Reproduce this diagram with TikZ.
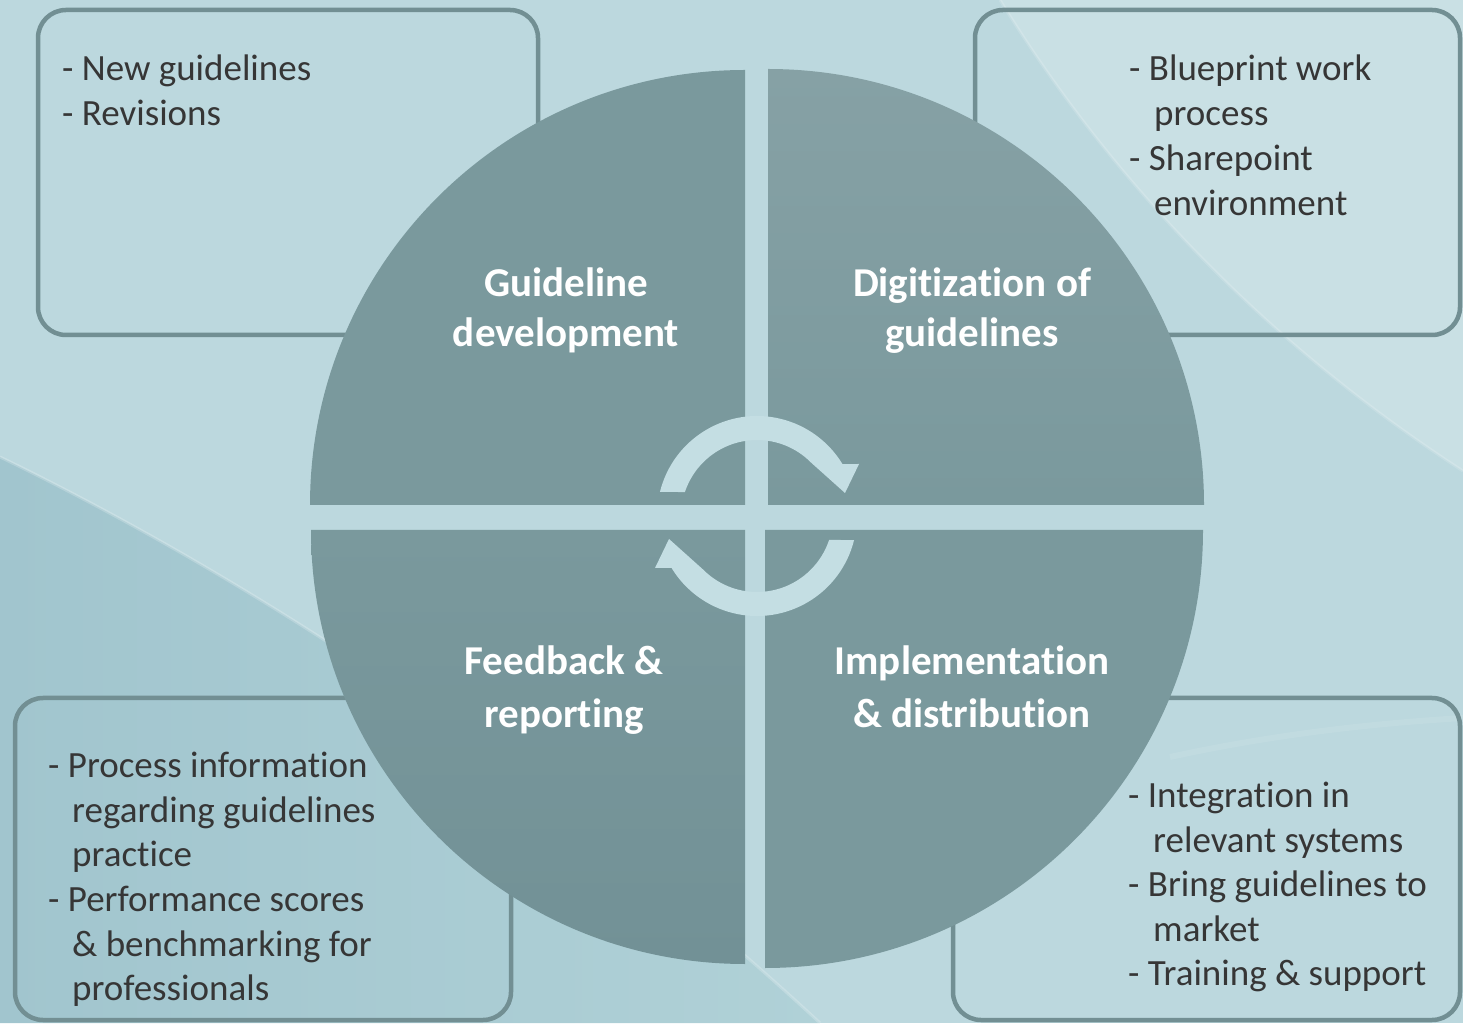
\documentclass[tikz,border=0pt]{standalone}
\usepackage{fontspec}
\setmainfont{Carlito}[RawFeature={-liga,-clig,-calt,-dlig}]
\definecolor{bgc}{HTML}{BCD8DE}
\definecolor{bgdark}{HTML}{A1C5CE}
\definecolor{bgdark2}{HTML}{B0D1D7}
\definecolor{bglight}{HTML}{C9E0E4}
\definecolor{quadc}{HTML}{7A999D}
\definecolor{quadtop}{HTML}{86A1A5}
\definecolor{quadlow}{HTML}{729196}
\definecolor{boxc}{HTML}{728F93}
\definecolor{arrowc}{HTML}{C4DEE3}
\definecolor{textc}{HTML}{363636}
\begin{document}
\begin{tikzpicture}[x=1pt,y=1pt,
  listtext/.style={anchor=base west, inner sep=0pt, text=textc, font=\fontsize{37}{44.6}\selectfont},
  labeltext/.style={anchor=base, inner sep=0pt, text=white, font=\fontsize{41}{50}\selectfont\bfseries},
  infobox/.style={draw=boxc, line width=4.5pt, rounded corners=28pt},
  cyclearrow/.style={fill=arrowc}]
% background
\useasboundingbox (0,0) rectangle (1463,1023);
\fill[bgc] (0,0) rectangle (1463,1023);
\shade[left color=bgdark, right color=bgdark2] (0,0) -- (0,566) .. controls (250,445) and (550,250) .. (820,0) -- cycle;
\draw[white, opacity=0.2, line width=3pt] (0,566) .. controls (250,445) and (550,250) .. (820,0);
\fill[bglight] (1000,1023) .. controls (1100,860) and (1250,690) .. (1463,552) -- (1463,1023) -- cycle;
\draw[white, opacity=0.15, line width=3pt] (1000,1023) .. controls (1100,860) and (1250,690) .. (1463,552);
\draw[white, opacity=0.08, line width=6pt] (1170,266) .. controls (1280,290) and (1380,300) .. (1463,305);
% info boxes
\draw[infobox] (38,1013) rectangle (538,688);
\draw[infobox] (975,1013) rectangle (1460,688);
\draw[infobox] (15,325) rectangle (511,3);
\draw[infobox] (953,325) rectangle (1460,3);
% quadrants
\fill[quadc] (745,518) -- (745,953) arc[start angle=90, end angle=180, radius=435] -- cycle;
\shade[top color=quadtop, bottom color=quadc] (768,518) -- (1204,518) arc[start angle=0, end angle=90, radius=436] -- cycle;
\shade[top color=quadc, bottom color=quadlow] (745,493) -- (311,493) arc[start angle=180, end angle=270, radius=434] -- cycle;
\fill[quadc] (765,493) -- (1203,493) arc[start angle=0, end angle=-90, radius=438] -- cycle;
% cycle arrows
\fill[cyclearrow, shift={(757,507)}] (166.1:100) arc[start angle=166.1, end angle=31.3, radius=100] -- (102,52) -- (88,23) -- (44.7:76) arc[start angle=44.7, end angle=161.6, radius=76] -- cycle;
\fill[cyclearrow, shift={(757,507)}, rotate=180] (166.1:100) arc[start angle=166.1, end angle=31.3, radius=100] -- (102,52) -- (88,23) -- (44.7:76) arc[start angle=44.7, end angle=161.6, radius=76] -- cycle;
% quadrant labels
\node[labeltext] (gd1) at (566,726) {Guideline};
\node[labeltext] (gd2) at (566,676) {development};
\node[labeltext] (dg1) at (972,726) {Digitization of};
\node[labeltext] (dg2) at (972,676) {guidelines};
\node[labeltext] (fb1) at (564,348) {Feedback \&};
\node[labeltext] (fb2) at (564,296) {reporting};
\node[labeltext] (im1) at (972,348) {Implementation};
\node[labeltext] (im2) at (972,296) {\& distribution};
% top-left list
\node[listtext] (tl1) at (62,942) {- New guidelines};
\node[listtext] (tl2) at (62,897) {- Revisions};
% top-right list
\node[listtext] (tr1) at (1129,942) {- Blueprint work};
\node[listtext] (tr2) at (1154,897) {process};
\node[listtext] (tr3) at (1129,852) {- Sharepoint};
\node[listtext] (tr4) at (1154,807) {environment};
% bottom-left list
\node[listtext] (bl1) at (48,246) {- Process information};
\node[listtext] (bl2) at (72,201) {regarding guidelines};
\node[listtext] (bl3) at (72,157) {practice};
\node[listtext] (bl4) at (48,112) {- Performance scores};
\node[listtext] (bl5) at (72,67) {\& benchmarking for};
\node[listtext] (bl6) at (72,23) {professionals};
% bottom-right list
\node[listtext] (br1) at (1128,216) {- Integration in};
\node[listtext] (br2) at (1153,171) {relevant systems};
\node[listtext] (br3) at (1128,127) {- Bring guidelines to};
\node[listtext] (br4) at (1153,82) {market};
\node[listtext] (br5) at (1128,38) {- Training \& support};
\end{tikzpicture}
\end{document}
